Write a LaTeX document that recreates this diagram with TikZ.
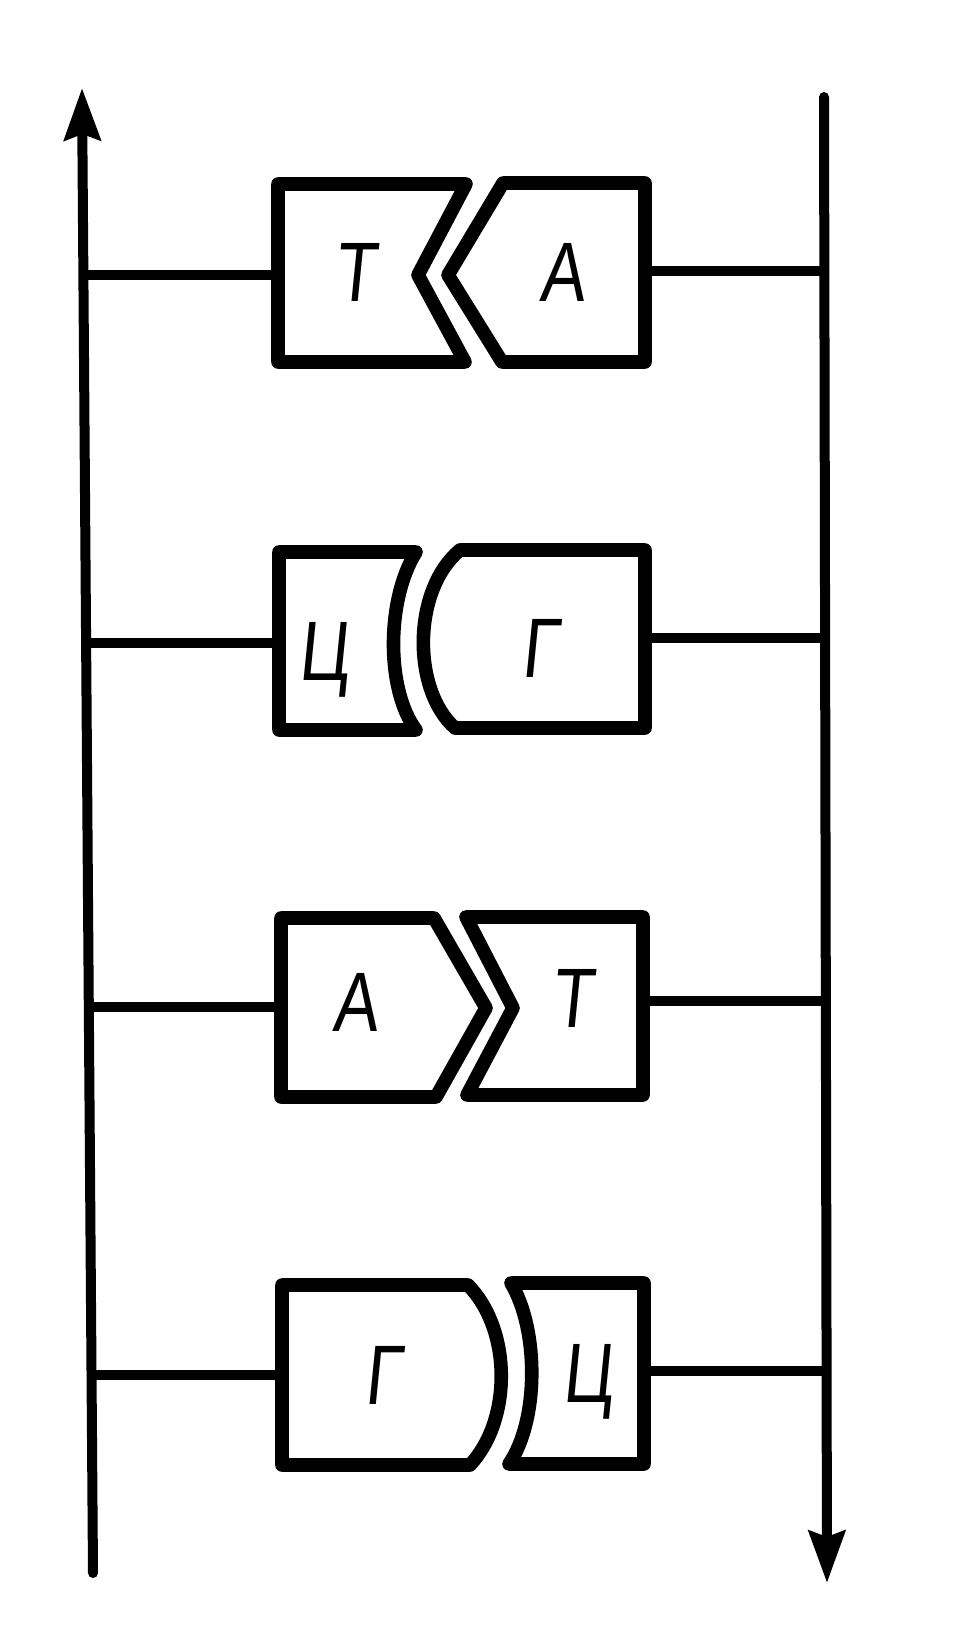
\documentclass[tikz,border=0pt]{standalone}
\usepackage{fontspec}
\newfontfamily\basefont[FakeStretch=0.8, FakeSlant=0.1]{Liberation Sans}
\usetikzlibrary{arrows.meta}

\tikzset{
  base/.style={line width=0.34cm, line join=round},
  link/.style={line width=0.24cm},
  strand/.style={line width=0.25cm, line cap=round},
  tip/.style={-{Stealth[length=1.3cm, width=0.9cm, inset=0.15cm]}},
  letter/.style={inner sep=0pt, text depth=0pt, font=\basefont\fontsize{60}{62}\selectfont},
}

\begin{document}
\begin{tikzpicture}[x=0.025cm, y=-0.025cm]
\useasboundingbox (0,0) rectangle (960,1648);

% strands
\coordinate (Lbot) at (93,1573);
\coordinate (Ltop) at (82,88);
\coordinate (Rtop) at (824,97);
\coordinate (Rbot) at (827,1583);
\draw[strand, tip] (Lbot) -- (Ltop);
\draw[strand, tip] (Rtop) -- (Rbot);

% T -- A
\begin{scope}
    \draw[base] (278,184) -- (466,184) -- (418,275) -- (465,362) -- (278,362) -- cycle;
    \draw[base] (503,183) -- (645,183) -- (645,362) -- (502,362) -- (448,275) -- cycle;
    \node[letter] (t1) at (355,272) {Т};
    \node[letter] (a1) at (562,272) {А};
    \coordinate (L1) at (83,275);
    \coordinate (in1) at (278,275);
    \coordinate (out1) at (645,271);
    \coordinate (R1) at (824,271);
\end{scope}

% C -- G
\begin{scope}
    \draw[base] (279,552) -- (416,552) .. controls (386,600) and (386,690) .. (416,730) -- (279,730) -- cycle;
    \draw[base] (460,550) -- (645,550) -- (645,728) -- (455,728) .. controls (412,690) and (412,590) .. (460,550) -- cycle;
    \node[letter] (c2) at (323,651) {Ц};
    \node[letter] (g2) at (540,648) {Г};
    \coordinate (L2) at (86,643);
    \coordinate (in2) at (279,643);
    \coordinate (out2) at (645,638);
    \coordinate (R2) at (825,638);
\end{scope}

% A -- T
\begin{scope}
    \draw[base] (281,918) -- (434,918) -- (486,1008) -- (436,1097) -- (281,1097) -- cycle;
    \draw[base] (466,917) -- (643,917) -- (643,1095) -- (467,1095) -- (513,1008) -- cycle;
    \node[letter] (a3) at (355,1002) {А};
    \node[letter] (t3) at (572,998) {Т};
    \coordinate (L3) at (89,1007);
    \coordinate (in3) at (281,1007);
    \coordinate (out3) at (643,1001);
    \coordinate (R3) at (826,1001);
\end{scope}

% G -- C
\begin{scope}
    \draw[base] (282,1285) -- (468,1285) .. controls (512,1330) and (512,1420) .. (470,1465) -- (282,1465) -- cycle;
    \draw[base] (511,1283) -- (644,1283) -- (644,1464) -- (509,1464) .. controls (539,1420) and (539,1330) .. (511,1283) -- cycle;
    \node[letter] (g4) at (383,1375) {Г};
    \node[letter] (c4) at (587,1373) {Ц};
    \coordinate (L4) at (92,1375);
    \coordinate (in4) at (282,1375);
    \coordinate (out4) at (644,1371);
    \coordinate (R4) at (827,1371);
\end{scope}

% links to the strands
\foreach \i in {1,2,3,4}{
    \draw[link] (L\i) -- (in\i);
    \draw[link] (out\i) -- (R\i);
}
\end{tikzpicture}
\end{document}
